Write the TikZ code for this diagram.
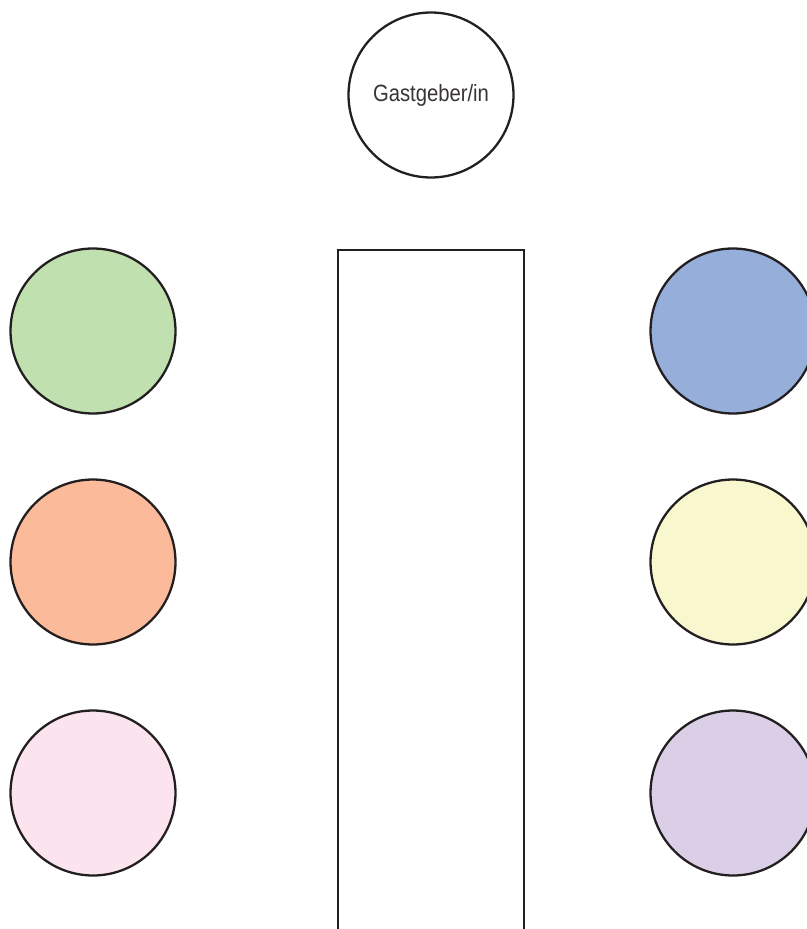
\documentclass[tikz,border=0pt]{standalone}
\usepackage{xcolor}
\usepackage{fontspec}
\setsansfont[FakeStretch=0.86]{Liberation Sans}
\usepackage{tikz}
\usetikzlibrary{positioning}

\definecolor{seatgreen}{HTML}{C0E0B0}
\definecolor{seatorange}{HTML}{FBBB9A}
\definecolor{seatpink}{HTML}{FBE4EE}
\definecolor{seatblue}{HTML}{96AFDA}
\definecolor{seatyellow}{HTML}{F9F7CD}
\definecolor{seatlilac}{HTML}{DBCFE7}
\definecolor{linegray}{HTML}{231F20}

\begin{document}
\begin{tikzpicture}[
  x=0.02cm, y=-0.02cm,
  every node/.style={draw=linegray,line width=1.3pt,align=center,font=\sffamily\fontsize{13.4}{15}\selectfont,text=linegray!90},
  seat/.style={circle,minimum size=3.3cm,inner sep=0pt},
  tablebox/.style={rectangle,minimum width=3.72cm,minimum height=17cm}
]
  \useasboundingbox (0,0) rectangle (807,929);
  \clip (0,0) rectangle (807,929);

  \node (host) [seat,fill=white] at (431,95) {Gastgeber/in};
  \node (table) [tablebox,fill=white,anchor=north] at (431,249) {};

  \node (left1) [seat,fill=seatgreen] at (93,331) {};
  \node (left2) [seat,fill=seatorange] at (93,562) {};
  \node (left3) [seat,fill=seatpink] at (93,793) {};

  \node (right1) [seat,fill=seatblue] at (733,331) {};
  \node (right2) [seat,fill=seatyellow] at (733,562) {};
  \node (right3) [seat,fill=seatlilac] at (733,793) {};
\end{tikzpicture}
\end{document}
